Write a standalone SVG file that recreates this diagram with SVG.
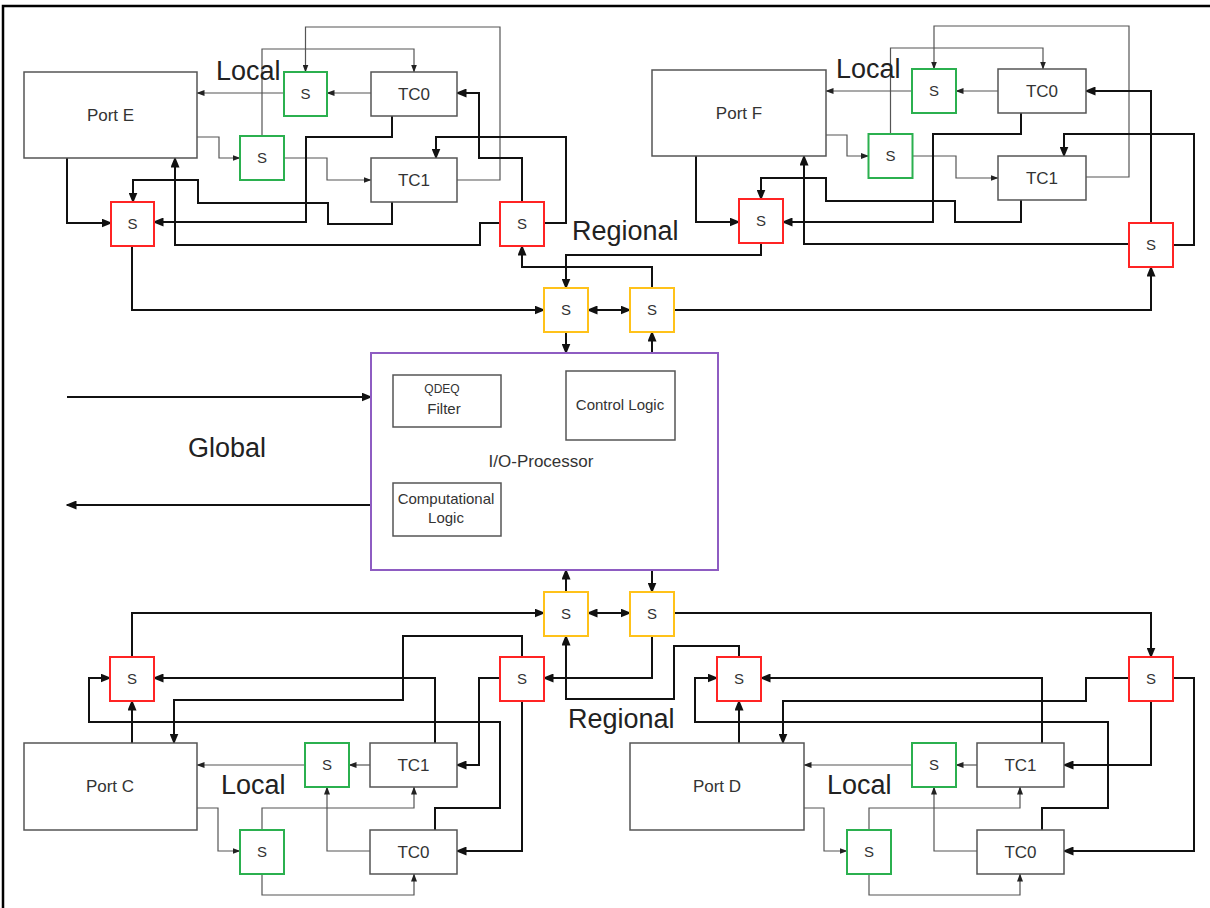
<svg xmlns="http://www.w3.org/2000/svg" width="1210" height="908" viewBox="0 0 1210 908">
  <style>
    text { font-family: "Liberation Sans", Arial, sans-serif; fill: #333; text-anchor: middle; }
    .box { fill: #fff; stroke: #555; stroke-width: 1.5; }
    .g { fill: #fff; stroke: #2bb04f; stroke-width: 2; }
    .r { fill: #fff; stroke: #ff2424; stroke-width: 2; }
    .y { fill: #fff; stroke: #ffc21a; stroke-width: 2; }
    .io { fill: #fff; stroke: #8e5cc2; stroke-width: 2; }
    .s { font-size: 15px; }
    .lbl { font-size: 17px; }
    .sm { font-size: 15px; }
    .big { font-size: 27px; fill: #222; text-anchor: start; }
    .tk { fill: none; stroke: #111; stroke-width: 2; marker-end: url(#ah); }
    .tn { fill: none; stroke: #555; stroke-width: 1.2; marker-end: url(#as); }
    .dbl { marker-start: url(#ah2); }
  </style>
  <defs>
    <marker id="ah" viewBox="0 0 11 9" refX="9.5" refY="4.5" markerWidth="11" markerHeight="9" markerUnits="userSpaceOnUse" orient="auto">
      <path d="M0,0 L11,4.5 L0,9 z" fill="#111"/>
    </marker>
    <marker id="ah2" viewBox="0 0 11 9" refX="9.5" refY="4.5" markerWidth="11" markerHeight="9" markerUnits="userSpaceOnUse" orient="auto-start-reverse">
      <path d="M0,0 L11,4.5 L0,9 z" fill="#111"/>
    </marker>
    <marker id="as" viewBox="0 0 8 6" refX="7.5" refY="3" markerWidth="8" markerHeight="6" markerUnits="userSpaceOnUse" orient="auto">
      <path d="M0,0 L8,3 L0,6 z" fill="#222"/>
    </marker>
  </defs>

  <rect x="0" y="0" width="1210" height="908" fill="#fff"/>
  <!-- outer frame -->
  <path d="M3,908 V6 H1210" fill="none" stroke="#000" stroke-width="2.5"/>

  <!-- connectors -->
  <g id="connectors">
    <!-- port E cluster -->
    <path class="tn" d="M284,93 H197"/>
    <path class="tn" d="M371,93 H327"/>
    <path class="tn" d="M262,136 V49 H414 V72"/>
    <path class="tn" d="M457,180 H500 V27 H305.5 V72"/>
    <path class="tn" d="M197,137 H219 V158 H240"/>
    <path class="tn" d="M284,158 H327 V180 H371"/>
    <path class="tk" d="M392,116 V137 H306 V222 H154"/>
    <path class="tk" d="M392,202 V224 H328 V203 H198 V180 H133 V202"/>
    <path class="tk" d="M67,158 V223 H111"/>
    <path class="tk" d="M132,246 V310 H544"/>
    <path class="tk" d="M500,223 H480 V245 H175 V158"/>
    <path class="tk" d="M522,202 V158 H479 V93 H457"/>
    <path class="tk" d="M544,223 H566 V137 H436 V158"/>

    <!-- upper regional switches -->
    <path class="tk" d="M652,288 V267 H522 V246"/>
    <path class="tk" d="M761,243 V255 H566 V288"/>
    <path class="tk dbl" d="M588,310 H630"/>
    <path class="tk" d="M566,332 V353"/>
    <path class="tk" d="M652,353 V332"/>
    <path class="tk" d="M674,310 H1151 V267"/>

    <!-- port F cluster -->
    <path class="tn" d="M912,91 H826"/>
    <path class="tn" d="M998,91 H956"/>
    <path class="tn" d="M890.5,134 V48 H1043 V69"/>
    <path class="tn" d="M1086,177 H1129 V26 H934 V69"/>
    <path class="tn" d="M826,135 H847 V156 H868.5"/>
    <path class="tn" d="M912.5,156 H956 V178 H998"/>
    <path class="tk" d="M1021,113 V134 H933 V222 H783"/>
    <path class="tk" d="M1021,200 V222 H955 V201 H826 V178 H761 V199"/>
    <path class="tk" d="M696,156 V222 H739"/>
    <path class="tk" d="M1129,244 H804 V156"/>
    <path class="tk" d="M1151,223 V91 H1086"/>
    <path class="tk" d="M1173,245 H1194 V134 H1064 V156"/>

    <!-- global in / out -->
    <path class="tk" d="M67,397 H371"/>
    <path class="tk" d="M371,505 H67"/>

    <!-- lower regional switches -->
    <path class="tk" d="M566,592 V570"/>
    <path class="tk" d="M652,570 V592"/>
    <path class="tk dbl" d="M588,613 H630"/>
    <path class="tk" d="M132,657 V613 H544"/>
    <path class="tk" d="M652,636 V678 H544"/>
    <path class="tk" d="M739,657 V646 H674 V699 H566 V636"/>
    <path class="tk" d="M674,613 H1151 V657"/>

    <!-- port C cluster -->
    <path class="tk" d="M132,743 V701"/>
    <path class="tk" d="M435,830 V808 H500 V722 H89 V678 H110"/>
    <path class="tk" d="M435,743 V678 H154"/>
    <path class="tk" d="M522,657 V636 H403 V700 H174 V743"/>
    <path class="tk" d="M500,678 H479 V765 H457"/>
    <path class="tk" d="M522,701 V851 H457"/>
    <path class="tn" d="M370,765 H349"/>
    <path class="tn" d="M305,765 H197"/>
    <path class="tn" d="M197,808 H218 V851 H240"/>
    <path class="tn" d="M262,830 V808 H414 V787"/>
    <path class="tn" d="M370,851 H327 V787"/>
    <path class="tn" d="M262,874 V895 H414 V874"/>

    <!-- port D cluster -->
    <path class="tk" d="M739,743 V701"/>
    <path class="tk" d="M1042,830 V808 H1108 V722 H695 V678 H717"/>
    <path class="tk" d="M1042,743 V678 H761"/>
    <path class="tk" d="M1129,678 H1086 V701 H783 V743"/>
    <path class="tk" d="M1151,701 V765 H1064"/>
    <path class="tk" d="M1173,678 H1194 V851 H1064"/>
    <path class="tn" d="M977,765 H956"/>
    <path class="tn" d="M912,765 H804"/>
    <path class="tn" d="M804,808 H824 V851 H847"/>
    <path class="tn" d="M869,830 V808 H1020 V787"/>
    <path class="tn" d="M977,851 H934 V787"/>
    <path class="tn" d="M869,874 V895 H1020 V874"/>
  </g>

  <!-- port E cluster nodes -->
  <g id="portE"><rect class="box" x="24" y="72" width="173" height="86"/><text class="lbl" x="110.5" y="121">Port E</text></g>
  <g id="sE_local0"><rect class="g" x="284" y="72" width="43" height="44"/><text class="s" x="305.5" y="99">S</text></g>
  <g id="sE_local1"><rect class="g" x="240" y="136" width="44" height="44"/><text class="s" x="262" y="163">S</text></g>
  <g id="tc0E"><rect class="box" x="371" y="72" width="86" height="44"/><text class="lbl" x="414" y="100">TC0</text></g>
  <g id="tc1E"><rect class="box" x="371" y="158" width="86" height="44"/><text class="lbl" x="414" y="186">TC1</text></g>
  <g id="sE_reg0"><rect class="r" x="111" y="202" width="43" height="44"/><text class="s" x="132.5" y="229">S</text></g>
  <g id="sE_reg1"><rect class="r" x="500" y="202" width="44" height="44"/><text class="s" x="522" y="229">S</text></g>

  <!-- port F cluster nodes -->
  <g id="portF"><rect class="box" x="652" y="70" width="174" height="86"/><text class="lbl" x="739" y="119">Port F</text></g>
  <g id="sF_local0"><rect class="g" x="912" y="69" width="44" height="44"/><text class="s" x="934" y="96">S</text></g>
  <g id="sF_local1"><rect class="g" x="868.5" y="134" width="44" height="44"/><text class="s" x="890.5" y="161">S</text></g>
  <g id="tc0F"><rect class="box" x="998" y="69" width="88" height="44"/><text class="lbl" x="1042" y="97">TC0</text></g>
  <g id="tc1F"><rect class="box" x="998" y="156" width="88" height="44"/><text class="lbl" x="1042" y="184">TC1</text></g>
  <g id="sF_reg0"><rect class="r" x="739" y="199" width="44" height="44"/><text class="s" x="761" y="226">S</text></g>
  <g id="sF_reg1"><rect class="r" x="1129" y="223" width="44" height="44"/><text class="s" x="1151" y="250">S</text></g>

  <!-- global switches and I/O processor -->
  <g id="sG0"><rect class="y" x="544" y="288" width="44" height="44"/><text class="s" x="566" y="315">S</text></g>
  <g id="sG1"><rect class="y" x="630" y="288" width="44" height="44"/><text class="s" x="652" y="315">S</text></g>
  <g id="ioProcessor">
    <rect class="io" x="371" y="353" width="347" height="217"/>
    <text class="lbl" x="541" y="467">I/O-Processor</text>
    <rect class="box" x="393" y="375" width="108" height="52"/>
    <text x="442" y="393" style="font-size:12px">QDEQ</text>
    <text class="sm" x="444" y="414">Filter</text>
    <rect class="box" x="566" y="371" width="109" height="69"/>
    <text class="sm" x="620" y="410">Control Logic</text>
    <rect class="box" x="393" y="483" width="108" height="53"/>
    <text class="sm" x="446" y="504">Computational</text>
    <text class="sm" x="446" y="523">Logic</text>
  </g>
  <g id="sG2"><rect class="y" x="544" y="592" width="44" height="44"/><text class="s" x="566" y="619">S</text></g>
  <g id="sG3"><rect class="y" x="630" y="592" width="44" height="44"/><text class="s" x="652" y="619">S</text></g>

  <!-- port C cluster nodes -->
  <g id="portC"><rect class="box" x="24" y="743" width="173" height="87"/><text class="lbl" x="110" y="792">Port C</text></g>
  <g id="sC_reg0"><rect class="r" x="110" y="657" width="44" height="44"/><text class="s" x="132" y="684">S</text></g>
  <g id="sC_reg1"><rect class="r" x="500" y="657" width="44" height="44"/><text class="s" x="522" y="684">S</text></g>
  <g id="sC_local0"><rect class="g" x="305" y="743" width="44" height="44"/><text class="s" x="327" y="770">S</text></g>
  <g id="sC_local1"><rect class="g" x="240" y="830" width="44" height="44"/><text class="s" x="262" y="857">S</text></g>
  <g id="tc1C"><rect class="box" x="370" y="743" width="87" height="44"/><text class="lbl" x="413.5" y="771">TC1</text></g>
  <g id="tc0C"><rect class="box" x="370" y="830" width="87" height="44"/><text class="lbl" x="413.5" y="858">TC0</text></g>

  <!-- port D cluster nodes -->
  <g id="portD"><rect class="box" x="630" y="743" width="174" height="87"/><text class="lbl" x="717" y="792">Port D</text></g>
  <g id="sD_reg0"><rect class="r" x="717" y="657" width="44" height="44"/><text class="s" x="739" y="684">S</text></g>
  <g id="sD_reg1"><rect class="r" x="1129" y="657" width="44" height="44"/><text class="s" x="1151" y="684">S</text></g>
  <g id="sD_local0"><rect class="g" x="912" y="743" width="44" height="44"/><text class="s" x="934" y="770">S</text></g>
  <g id="sD_local1"><rect class="g" x="847" y="830" width="44" height="44"/><text class="s" x="869" y="857">S</text></g>
  <g id="tc1D"><rect class="box" x="977" y="743" width="87" height="44"/><text class="lbl" x="1020.5" y="771">TC1</text></g>
  <g id="tc0D"><rect class="box" x="977" y="830" width="87" height="44"/><text class="lbl" x="1020.5" y="858">TC0</text></g>

  <!-- level labels -->
  <g id="labels">
    <text class="big" x="216" y="80">Local</text>
    <text class="big" x="836" y="78">Local</text>
    <text class="big" x="572" y="240">Regional</text>
    <text class="big" x="188" y="457">Global</text>
    <text class="big" x="568" y="728">Regional</text>
    <text class="big" x="221" y="794">Local</text>
    <text class="big" x="827" y="794">Local</text>
  </g>
</svg>
